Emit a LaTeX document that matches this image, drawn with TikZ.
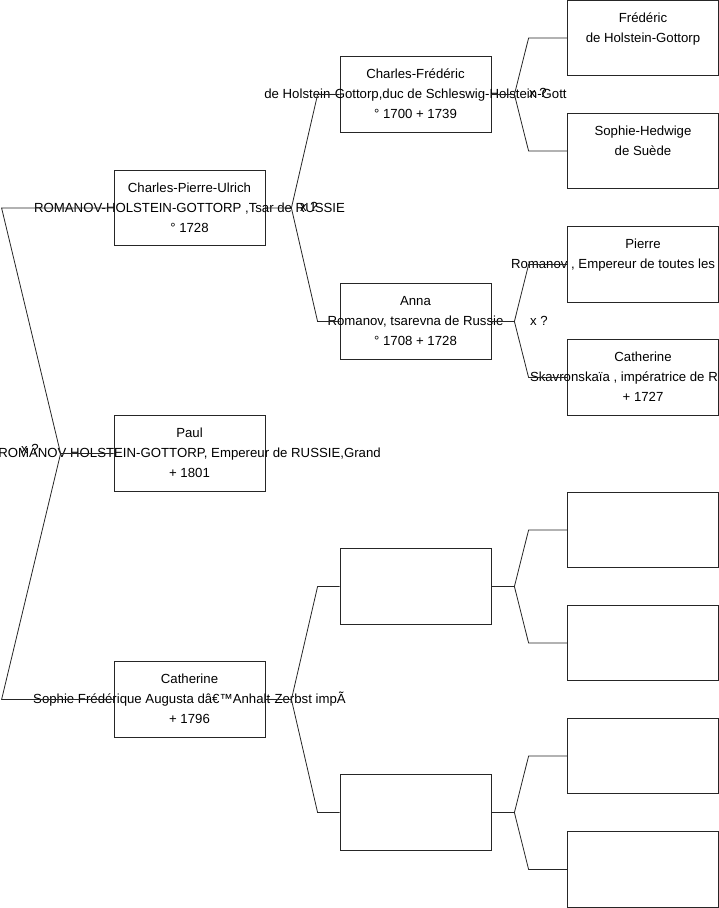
\documentclass[tikz,border=0pt]{standalone}
\usepackage{fontspec}
\setmainfont{Liberation Sans}
\usetikzlibrary{positioning,calc}
\tikzset{
  pbox/.style={draw=black!85, line width=0.8pt, minimum width=151pt, minimum height=75.5pt, inner sep=0pt},
  ptxt/.style={align=center, inner sep=0pt, font=\fontsize{13.2}{20}\selectfont},
  lnk/.style={draw=black!85, line width=0.8pt},
  mar/.style={inner sep=0pt, font=\fontsize{13.2}{16}\selectfont},
}

\begin{document}
\begin{tikzpicture}[x=1pt, y=-1pt]
  \useasboundingbox (0,0) rectangle (719,908);
  \clip (0,0) rectangle (719,908);
  % generation 1 and 2
  \node[pbox] (paul) at (189.5,453.5) {};
  \node[pbox] (cpu) at (189.5,208) {};
  \node[pbox] (cat) at (189.5,699.5) {};
  % generation 3
  \node[pbox] (cfr) at (415.5,94.5) {};
  \node[pbox] (anna) at (415.5,321.5) {};
  \node[pbox] (bxA) at (415.5,586.5) {};
  \node[pbox] (bxB) at (415.5,812.5) {};
  % generation 4
  \node[pbox] (fred) at (643,38) {};
  \node[pbox] (hedw) at (643,151) {};
  \node[pbox] (pierre) at (643,264.5) {};
  \node[pbox] (cath) at (643,377.5) {};
  \node[pbox] (bxC) at (643,530) {};
  \node[pbox] (bxD) at (643,643) {};
  \node[pbox] (bxE) at (643,756) {};
  \node[pbox] (bxF) at (643,869.5) {};

  \node[ptxt] (paulT) at (paul) {\strut Paul\\\strut ROMANOV-HOLSTEIN-GOTTORP, Empereur de RUSSIE,Grand\\\strut + 1801};
  \node[ptxt] (cpuT) at (cpu) {\strut Charles-Pierre-Ulrich\\\strut ROMANOV-HOLSTEIN-GOTTORP ,Tsar de RUSSIE\\\strut ° 1728};
  \node[ptxt] (catT) at (cat) {\strut Catherine\\\strut Sophie Frédérique Augusta dâ€™Anhalt-Zerbst impÃ\\\strut + 1796};
  \node[ptxt] (cfrT) at (cfr) {\strut Charles-Frédéric\\\strut de Holstein-Gottorp,duc de Schleswig-Holstein-Gott\\\strut ° 1700 + 1739};
  \node[ptxt] (annaT) at (anna) {\strut Anna\\\strut Romanov, tsarevna de Russie\\\strut ° 1708 + 1728};
  \node[ptxt] (fredT) at (fred) {\strut Frédéric\\\strut de Holstein-Gottorp\\\strut};
  \node[ptxt] (hedwT) at (hedw) {\strut Sophie-Hedwige\\\strut de Suède\\\strut};
  \node[ptxt] (pierreT) at (pierre) {\strut Pierre\\\strut\makebox[264pt][l]{Romanov , Empereur de toutes les}\\\strut};
  \node[ptxt] (cathT) at (cath) {\strut Catherine\\\strut\makebox[226pt][l]{Skavronskaïa , impératrice de R}\\\strut + 1727};

  \node[mar] (mPaul) at (30,449) {x ?};
  \node[mar] (mCpu) at (309,207) {x ?};
  \node[mar] (mCfr) at (538,93) {x ?};
  \node[mar] (mAnna) at (539,321) {x ?};

  % links
  \draw[lnk] (paul.west) -- ++(-53,0) coordinate (jPaul) -- ([xshift=-112pt]cpu.west) -- (cpu.west);
  \draw[lnk] (jPaul) -- ([xshift=-112pt]cat.west) -- (cat.west);
  \foreach \p/\a/\b in {cpu/cfr/anna, cat/bxA/bxB} {
    \draw[lnk] (\p.east) -- ++(26,0) coordinate (j\p) -- ([xshift=-22pt]\a.west) -- (\a.west);
    \draw[lnk] (j\p) -- ([xshift=-22pt]\b.west) -- (\b.west);
  }
  \foreach \p/\a/\b in {cfr/fred/hedw, anna/pierre/cath, bxA/bxC/bxD, bxB/bxE/bxF} {
    \draw[lnk] (\p.east) -- ++(23,0) coordinate (j\p) -- ([xshift=-38.5pt]\a.west) -- (\a.west);
    \draw[lnk] (j\p) -- ([xshift=-38.5pt]\b.west) -- (\b.west);
  }
\end{tikzpicture}
\end{document}
